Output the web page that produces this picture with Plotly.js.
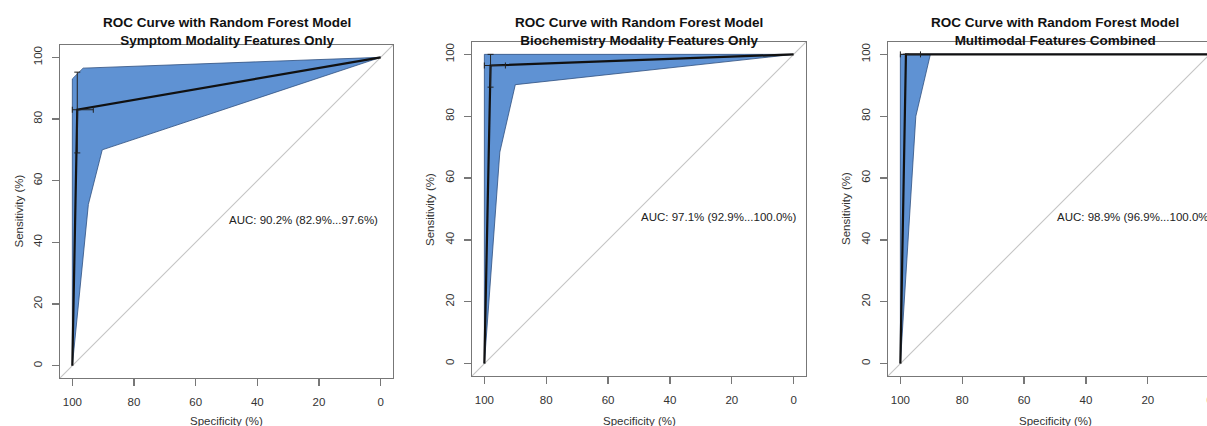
<!DOCTYPE html>
<html>
<head>
<meta charset="utf-8">
<script src="https://cdn.plot.ly/plotly-3.0.1.min.js"></script>
<style>
html, body { margin: 0; padding: 0; overflow: hidden; background: #fff; }
#chart { width: 1250px; height: 426px; }
</style>
</head>
<body>
<div id="chart"></div>
<script>
// ---- Data ----
const panelTitles = [
  "ROC Curve with Random Forest Model<br>Symptom Modality Features Only",
  "ROC Curve with Random Forest Model<br>Biochemistry Modality Features Only",
  "ROC Curve with Random Forest Model<br>Multimodal Features Combined"
];
const aucLabels = [
  "AUC: 90.2% (82.9%...97.6%)",
  "AUC: 97.1% (92.9%...100.0%)",
  "AUC: 98.9% (96.9%...100.0%)"
];
const tickVals = [0, 20, 40, 60, 80, 100];
const tickText = ["0", "20", "40", "60", "80", "100"];

// ROC curves (specificity %, sensitivity %)
const rocSpec1 = [100, 98.4, 0];
const rocSens1 = [0, 83, 100];
const rocSpec2 = [100, 98, 0];
const rocSens2 = [0, 96.4, 100];
const rocSpec3 = [100, 98.2, 0];
const rocSens3 = [0, 100, 100];

// Confidence band of sensitivity: upper and lower edges
const ciUpSpec1 = [100, 100, 96.5, 0];
const ciUpSens1 = [0, 93, 96.5, 100];
const ciLoSpec1 = [0, 90.3, 94.8, 100];
const ciLoSens1 = [100, 70, 52.3, 0];

const ciUpSpec2 = [100, 100, 0];
const ciUpSens2 = [0, 100, 100];
const ciLoSpec2 = [0, 90, 95, 100];
const ciLoSens2 = [100, 90.2, 68.4, 0];

const ciUpSpec3 = [100, 100, 0];
const ciUpSens3 = [0, 100, 100];
const ciLoSpec3 = [0, 90.3, 95, 100];
const ciLoSens3 = [100, 100, 80, 0];

// Threshold point with confidence intervals
const thrSpec = [98.4, 98, 98.2];
const thrSens = [83, 96.4, 100];
const thrSpecLow = [93.2, 93.2, 93.5];
const thrSpecHigh = [100, 100, 100];
const thrSensLow = [69, 89.4, 100];
const thrSensHigh = [95.2, 100, 100];

// Chance diagonal (spans the full plotting range)
const diagSpec = [104, -4];
const diagSens = [-4, 104];

// ---- Layout geometry ----
const W = 1250, H = 426;
const boxes = [
  {x0: 60, x1: 393, y0: 45, y1: 378},
  {x0: 472, x1: 806, y0: 42, y1: 376},
  {x0: 888, x1: 1222, y0: 42, y1: 376}
];

const rocs = [[rocSpec1, rocSens1], [rocSpec2, rocSens2], [rocSpec3, rocSens3]];
const cis = [
  [ciUpSpec1, ciUpSens1, ciLoSpec1, ciLoSens1],
  [ciUpSpec2, ciUpSens2, ciLoSpec2, ciLoSens2],
  [ciUpSpec3, ciUpSens3, ciLoSpec3, ciLoSens3]
];

const FONT = "Liberation Sans, Arial, Helvetica, sans-serif";
const traces = [];
const annotations = [];
const layout = {
  width: W, height: H,
  margin: {l: 0, r: 0, t: 0, b: 0},
  paper_bgcolor: "#fff", plot_bgcolor: "#fff",
  showlegend: false,
  font: {family: FONT, size: 11.5, color: "#333"}
};

for (let i = 0; i < 3; i++) {
  const b = boxes[i];
  const sfx = i === 0 ? "" : String(i + 1);
  const xa = "x" + sfx, ya = "y" + sfx;
  const axCommon = {
    range: null, showgrid: false, zeroline: false,
    showline: true, mirror: true, linecolor: "#777", linewidth: 1.3,
    ticks: "outside", ticklen: 7, tickcolor: "#777", tickwidth: 1.2,
    tickvals: tickVals, ticktext: tickText,
    tickfont: {family: FONT, size: 11.5, color: "#333"},
    fixedrange: true
  };
  layout["xaxis" + sfx] = Object.assign({}, axCommon, {
    range: [104, -4],
    domain: [b.x0 / W, b.x1 / W],
    anchor: ya,
    ticklabelstandoff: 6
  });
  layout["yaxis" + sfx] = Object.assign({}, axCommon, {
    range: [-4, 104],
    domain: [(H - b.y1) / H, (H - b.y0) / H],
    anchor: xa,
    tickangle: -90,
    ticklabelstandoff: 5
  });

  // CI band polygon
  const c = cis[i];
  const polyX = c[0].concat(c[2]);
  const polyY = c[1].concat(c[3]);
  traces.push({
    type: "scatter", mode: "lines", x: polyX, y: polyY,
    xaxis: xa, yaxis: ya, fill: "toself", fillcolor: "#5f92d3",
    line: {color: "#2f4f7f", width: 0.8}, hoverinfo: "skip"
  });
  // diagonal
  traces.push({
    type: "scatter", mode: "lines", x: diagSpec, y: diagSens,
    xaxis: xa, yaxis: ya, line: {color: "#c4c4c4", width: 1.1}, hoverinfo: "skip"
  });
  // ROC curve
  traces.push({
    type: "scatter", mode: "lines", x: rocs[i][0], y: rocs[i][1],
    xaxis: xa, yaxis: ya, line: {color: "#111", width: 2.2}
  });
  // threshold CI crosses
  traces.push({
    type: "scatter", mode: "markers",
    x: [thrSpec[i]], y: [thrSens[i]], xaxis: xa, yaxis: ya,
    marker: {size: 1, color: "#111"},
    error_x: {type: "data", symmetric: false,
      array: [thrSpecHigh[i] - thrSpec[i]], arrayminus: [thrSpec[i] - thrSpecLow[i]],
      color: "#222", thickness: 1, width: 3},
    error_y: {type: "data", symmetric: false,
      array: [thrSensHigh[i] - thrSens[i]], arrayminus: [thrSens[i] - thrSensLow[i]],
      color: "#222", thickness: 1, width: 3}
  });

  const cx = (b.x0 + b.x1) / 2 / W;
  // Panel title
  annotations.push({
    xref: "paper", yref: "paper", x: cx, y: (H - 31.5) / H,
    xanchor: "center", yanchor: "middle", showarrow: false,
    text: "<b>" + panelTitles[i].split("<br>").join("</b><br><b>") + "</b>",
    font: {family: FONT, size: 13.5, color: "#111"}
  });
  // AUC label
  annotations.push({
    xref: xa, yref: ya, x: 50, y: 50, xanchor: "left", yanchor: "top",
    showarrow: false, text: aucLabels[i],
    font: {family: FONT, size: 11.5, color: "#222"}
  });
  // axis titles
  annotations.push({
    xref: "paper", yref: "paper", x: cx, y: (H - 421) / H,
    xanchor: "center", yanchor: "middle", showarrow: false,
    text: "Specificity (%)", font: {family: FONT, size: 11.5, color: "#333"}
  });
  annotations.push({
    xref: "paper", yref: "paper", x: (b.x0 - 42) / W, y: (H - (b.y0 + b.y1) / 2) / H,
    xanchor: "center", yanchor: "middle", showarrow: false, textangle: -90,
    text: "Sensitivity (%)", font: {family: FONT, size: 11.5, color: "#333"}
  });
}
layout.annotations = annotations;

Plotly.newPlot("chart", traces, layout, {displayModeBar: false, staticPlot: true});
</script>
</body>
</html>
